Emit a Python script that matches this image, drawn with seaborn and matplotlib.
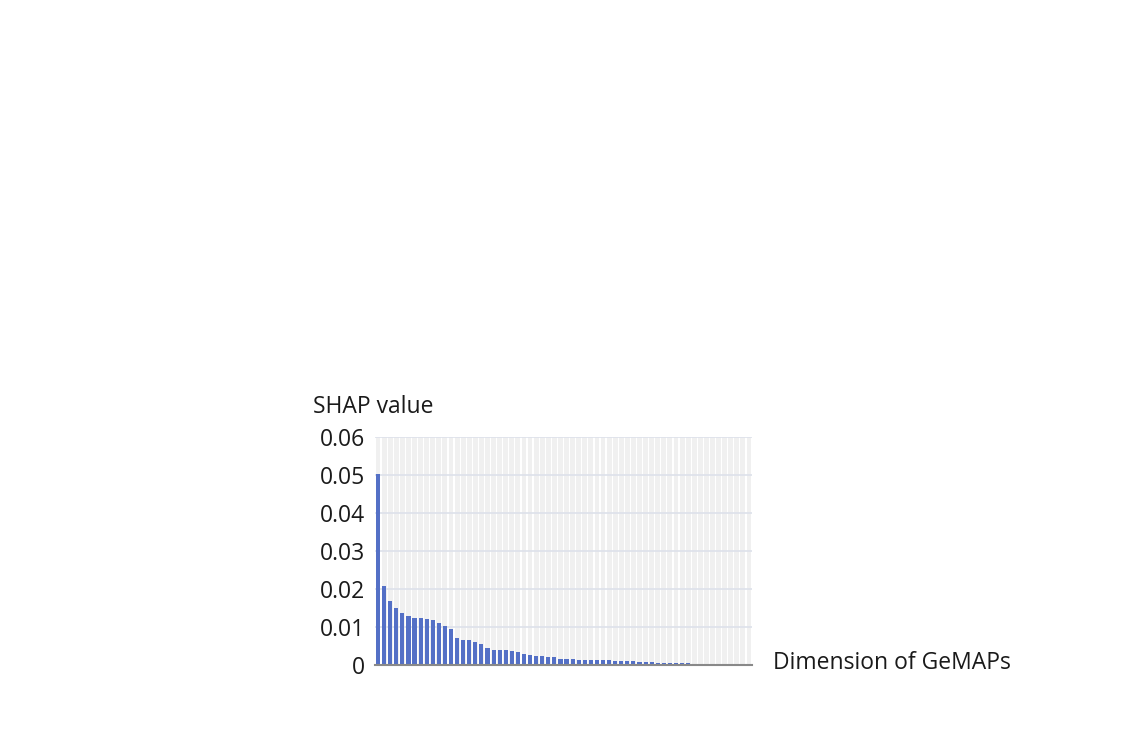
import numpy as np
import pandas as pd
import matplotlib
matplotlib.use("Agg")
import matplotlib.pyplot as plt
import seaborn as sns

# SHAP value per GeMAPS dimension, sorted descending
shap_values = [
    0.0503, 0.0208, 0.0169, 0.0149, 0.0137, 0.0129, 0.0125, 0.0123, 0.0120, 0.0119,
    0.0110, 0.0103, 0.0095, 0.0071, 0.0066, 0.0066, 0.0061, 0.0056, 0.0044, 0.0040,
    0.0040, 0.0040, 0.0037, 0.0034, 0.0029, 0.0026, 0.0025, 0.0023, 0.0020, 0.0020,
    0.0015, 0.0015, 0.0015, 0.0014, 0.0013, 0.0013, 0.0013, 0.0013, 0.0012, 0.0011,
    0.0011, 0.0010, 0.0010, 0.0008, 0.0008, 0.0008, 0.0006, 0.0005, 0.0005, 0.0005,
    0.0004, 0.0004, 0.0003, 0.0003, 0.0003, 0.0003, 0.0002, 0.0002, 0.0001, 0.0001,
    0.0001, 0.0001,
]
dimensions = [f"d{i + 1}" for i in range(len(shap_values))]
y_ticks = [0, 0.01, 0.02, 0.03, 0.04, 0.05, 0.06]
y_tick_labels = ["0", "0.01", "0.02", "0.03", "0.04", "0.05", "0.06"]

y_max = y_ticks[-1]
df = pd.DataFrame({"dim": dimensions, "shap": shap_values})
df["background"] = y_max

sns.set_style("white")
plt.rcParams["font.family"] = ["Open Sans", "DejaVu Sans"]
fs = 16.5

fig = plt.figure(figsize=(11.27, 7.52), dpi=100)
ax = fig.add_axes([375 / 1127, 1 - 665 / 752, 377 / 1127, 228 / 752])

# grey column behind every bar
sns.barplot(data=df, x="dim", y="background", color="#f0f0f0",
            width=0.8, saturation=1, linewidth=0, ax=ax, zorder=0.2)
sns.barplot(data=df, x="dim", y="shap", color="#5470c6",
            width=0.68, saturation=1, linewidth=0, ax=ax, zorder=2)

ax.set_axisbelow(True)
ax.yaxis.grid(True, color="#dde1ea", linewidth=1.2)
ax.set_ylim(0, y_max)
ax.set_xlim(-0.5, len(shap_values) - 0.5)
ax.set_yticks(y_ticks)
ax.set_yticklabels(y_tick_labels, fontsize=fs, color="#1a1a1a")
ax.tick_params(axis="y", length=0, pad=7)
ax.set_xticks([-0.5])
ax.set_xticklabels([""])
ax.tick_params(axis="x", length=6, width=1.5, color="#898989")
ax.set_xlabel("")
ax.set_ylabel("")

for side in ["top", "left", "right"]:
    ax.spines[side].set_visible(False)
ax.spines["bottom"].set_color("#898989")
ax.spines["bottom"].set_linewidth(1.5)

fig.text(313 / 1127, 1 - 407 / 752, "SHAP value", fontsize=fs,
         ha="left", va="center", color="#1a1a1a")
fig.text(773 / 1127, 1 - 663 / 752, "Dimension of GeMAPs", fontsize=fs,
         ha="left", va="center", color="#1a1a1a")

plt.savefig("out.png", dpi=100)
